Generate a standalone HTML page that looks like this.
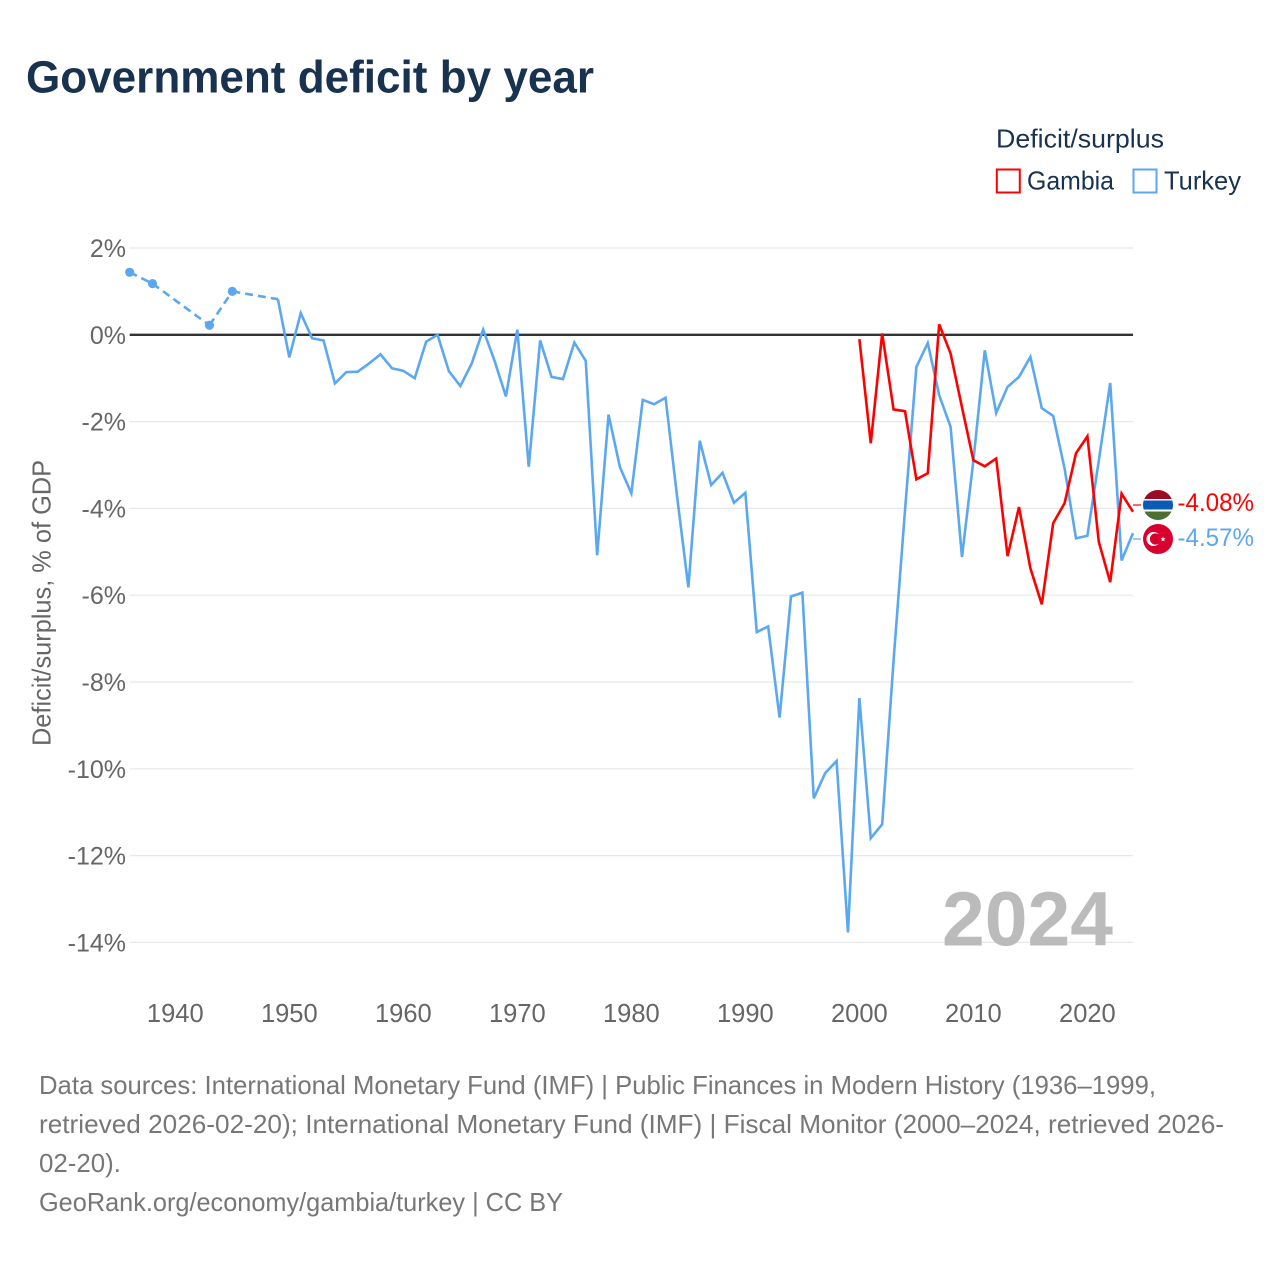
<!DOCTYPE html>
<html lang="en">
<head>
<meta charset="utf-8">
<title>Government deficit by year</title>
<style>
html,body{margin:0;padding:0;background:#fff;}
svg{display:block;font-family:"Liberation Sans",sans-serif;}
</style>
</head>
<body>
<svg id="chart" width="1280" height="1280" viewBox="0 0 1280 1280" xmlns="http://www.w3.org/2000/svg">
  <rect width="1280" height="1280" fill="#fff"/>
  <text x="26" y="92.5" font-size="45" font-weight="700" fill="#18324f" textLength="568" lengthAdjust="spacingAndGlyphs">Government deficit by year</text>

  <text x="996" y="147.5" font-size="26" fill="#18324f" textLength="168" lengthAdjust="spacingAndGlyphs">Deficit/surplus</text>
  <rect x="996.8" y="169.5" width="23" height="23" fill="#fff" stroke="#ff0000" stroke-width="2"/>
  <text x="1027" y="189.5" font-size="26" fill="#18324f" textLength="87" lengthAdjust="spacingAndGlyphs">Gambia</text>
  <rect x="1133.5" y="169.5" width="23" height="23" fill="#fff" stroke="#5ba8f0" stroke-width="2"/>
  <text x="1164" y="189.5" font-size="26" fill="#18324f" textLength="77" lengthAdjust="spacingAndGlyphs">Turkey</text>

  <g id="grid"></g>
  <g id="y-ticks"></g>
  <g id="x-ticks"></g>
  <text transform="translate(50.5,603) rotate(-90)" text-anchor="middle" font-size="26" fill="#666" textLength="286" lengthAdjust="spacingAndGlyphs">Deficit/surplus, % of GDP</text>

  <text x="942" y="945.5" font-size="77" font-weight="700" fill="#bbbbbb" textLength="171" lengthAdjust="spacingAndGlyphs">2024</text>

  <line id="zero-line" stroke="#333" stroke-width="2.4"/>
  <g id="series"></g>

  <defs>
    <clipPath id="clip-gm"><circle cx="1158" cy="505" r="15"/></clipPath>
  </defs>
  <line id="connector-gambia" stroke="#ff0000" stroke-width="1.2"/>
  <line id="connector-turkey" stroke="#5ba8f0" stroke-width="1.2"/>
  <g clip-path="url(#clip-gm)">
    <rect x="1143" y="490" width="30" height="10" fill="#9c0a24"/>
    <rect x="1143" y="499" width="30" height="2" fill="#fff"/>
    <rect x="1143" y="500.5" width="30" height="9" fill="#0b5ab4"/>
    <rect x="1143" y="509.5" width="30" height="2" fill="#fff"/>
    <rect x="1143" y="511.5" width="30" height="9.5" fill="#4c6f32"/>
  </g>
  <g>
    <circle cx="1158" cy="539" r="15" fill="#d8002e"/>
    <circle cx="1153.5" cy="539" r="7" fill="#fff"/>
    <circle cx="1155.5" cy="539" r="5.6" fill="#d8002e"/>
    <polygon points="1163,536.6 1163.7,538.4 1165.6,538.4 1164.1,539.6 1164.7,541.5 1163,540.4 1161.4,541.5 1162,539.6 1160.5,538.4 1162.3,538.4" fill="#fff"/>
  </g>
  <text id="value-gambia" x="1177.5" y="511" font-size="25" fill="#ff0000" textLength="76.5" lengthAdjust="spacingAndGlyphs"></text>
  <text id="value-turkey" x="1177.5" y="546" font-size="25" fill="#5ba8f0" textLength="76.5" lengthAdjust="spacingAndGlyphs"></text>

  <g font-size="26" fill="#777">
    <text x="39" y="1094" textLength="1117" lengthAdjust="spacingAndGlyphs">Data sources: International Monetary Fund (IMF) | Public Finances in Modern History (1936–1999,</text>
    <text x="39" y="1133" textLength="1185" lengthAdjust="spacingAndGlyphs">retrieved 2026-02-20); International Monetary Fund (IMF) | Fiscal Monitor (2000–2024, retrieved 2026-</text>
    <text x="39" y="1172" textLength="82" lengthAdjust="spacingAndGlyphs">02-20).</text>
    <text x="39" y="1211" textLength="524" lengthAdjust="spacingAndGlyphs">GeoRank.org/economy/gambia/turkey | CC BY</text>
  </g>
</svg>
<script>
const yTickValues = [2, 0, -2, -4, -6, -8, -10, -12, -14];
const xTickYears = [1940, 1950, 1960, 1970, 1980, 1990, 2000, 2010, 2020];

const turkeyYears = [1936, 1938, 1943, 1945, 1949, 1950, 1951, 1952, 1953, 1954, 1955, 1956, 1957, 1958, 1959, 1960, 1961, 1962, 1963, 1964, 1965, 1966, 1967, 1968, 1969, 1970, 1971, 1972, 1973, 1974, 1975, 1976, 1977, 1978, 1979, 1980, 1981, 1982, 1983, 1984, 1985, 1986, 1987, 1988, 1989, 1990, 1991, 1992, 1993, 1994, 1995, 1996, 1997, 1998, 1999, 2000, 2001, 2002, 2003, 2004, 2005, 2006, 2007, 2008, 2009, 2010, 2011, 2012, 2013, 2014, 2015, 2016, 2017, 2018, 2019, 2020, 2021, 2022, 2023, 2024];
const turkeyValues = [1.44, 1.18, 0.22, 1.0, 0.82, -0.52, 0.5, -0.08, -0.13, -1.12, -0.86, -0.85, -0.66, -0.45, -0.77, -0.83, -1.0, -0.16, 0, -0.84, -1.18, -0.66, 0.12, -0.6, -1.42, 0.12, -3.04, -0.13, -0.97, -1.02, -0.18, -0.6, -5.08, -1.84, -3.05, -3.65, -1.5, -1.6, -1.45, -3.7, -5.82, -2.44, -3.46, -3.18, -3.87, -3.64, -6.85, -6.72, -8.82, -6.03, -5.94, -10.68, -10.1, -9.82, -13.77, -8.37, -11.6, -11.28, -7.5, -4.05, -0.74, -0.19, -1.39, -2.12, -5.12, -2.9, -0.36, -1.8, -1.2, -0.97, -0.51, -1.69, -1.87, -3.08, -4.69, -4.63, -2.9, -1.11, -5.2, -4.57];

const gambiaYears = [2000, 2001, 2002, 2003, 2004, 2005, 2006, 2007, 2008, 2009, 2010, 2011, 2012, 2013, 2014, 2015, 2016, 2017, 2018, 2019, 2020, 2021, 2022, 2023, 2024];
const gambiaValues = [-0.1, -2.5, 0.03, -1.72, -1.76, -3.33, -3.19, 0.24, -0.43, -1.67, -2.89, -3.03, -2.85, -5.1, -3.97, -5.38, -6.21, -4.34, -3.88, -2.73, -2.34, -4.77, -5.7, -3.66, -4.08];

const SVG_NS = 'http://www.w3.org/2000/svg';
const X_MIN_YEAR = 1936, X_MAX_YEAR = 2024, X_LEFT = 129.7, X_RIGHT = 1133;
const Y_ZERO = 334.8, Y_PER_UNIT = 43.4;
const BLUE = '#5ba8f0', RED = '#ff0000';

function xScale(year) {
  return X_LEFT + (year - X_MIN_YEAR) * (X_RIGHT - X_LEFT) / (X_MAX_YEAR - X_MIN_YEAR);
}
function yScale(value) {
  return Y_ZERO - value * Y_PER_UNIT;
}
function make(tag, parent) {
  const el = document.createElementNS(SVG_NS, tag);
  parent.appendChild(el);
  return el;
}

const gridLayer = document.getElementById('grid');
const yTickLayer = document.getElementById('y-ticks');
const xTickLayer = document.getElementById('x-ticks');

yTickValues.forEach(function (v) {
  const line = make('line', gridLayer);
  
  
  line.setAttribute('x1', X_LEFT);
  line.setAttribute('x2', X_RIGHT);
  line.setAttribute('y1', yScale(v));
  line.setAttribute('y2', yScale(v));
  line.setAttribute('stroke', '#e8e8e8');
  line.setAttribute('stroke-width', '1.2');
  const label = make('text', yTickLayer);
  
  
  label.setAttribute('x', 126);
  label.setAttribute('y', yScale(v) + 9);
  label.setAttribute('text-anchor', 'end');
  label.setAttribute('font-size', '25');
  label.setAttribute('fill', '#666');
  label.textContent = v + '%';
});

xTickYears.forEach(function (yr) {
  const label = make('text', xTickLayer);
  
  
  label.setAttribute('x', xScale(yr));
  label.setAttribute('y', 1022);
  label.setAttribute('text-anchor', 'middle');
  label.setAttribute('font-size', '25.5');
  label.setAttribute('fill', '#666');
  label.textContent = yr;
});

function drawSeries(parent, years, values, color, name) {
  let solid = '';
  years.forEach(function (yr, i) {
    if (i === 0) return;
    const fromX = xScale(years[i - 1]).toFixed(2);
    const fromY = yScale(values[i - 1]).toFixed(2);
    const toX = xScale(yr).toFixed(2);
    const toY = yScale(values[i]).toFixed(2);
    if (yr - years[i - 1] === 1) {
      solid += (solid === '' ? 'M' + fromX + ' ' + fromY : '') + 'L' + toX + ' ' + toY;
    } else {
      const gap = make('path', parent);
      
      
      gap.setAttribute('d', 'M' + fromX + ' ' + fromY + 'L' + toX + ' ' + toY);
      gap.setAttribute('fill', 'none');
      gap.setAttribute('stroke', color);
      gap.setAttribute('stroke-width', '2.6');
      gap.setAttribute('stroke-dasharray', '8 5');
    }
  });
  const line = make('path', parent);
  
  
  line.setAttribute('d', solid);
  line.setAttribute('fill', 'none');
  line.setAttribute('stroke', color);
  line.setAttribute('stroke-width', '2.6');
  line.setAttribute('stroke-linejoin', 'miter');
  years.forEach(function (yr, i) {
    const hasPrev = i > 0 && yr - years[i - 1] === 1;
    const hasNext = i < years.length - 1 && years[i + 1] - yr === 1;
    if (hasPrev || hasNext) return;
    const dot = make('circle', parent);
    
    
    dot.setAttribute('cx', xScale(yr));
    dot.setAttribute('cy', yScale(values[i]));
    dot.setAttribute('r', '4.6');
    dot.setAttribute('fill', color);
  });
}

const zero = document.getElementById('zero-line');
zero.setAttribute('x1', X_LEFT);
zero.setAttribute('x2', X_RIGHT);
zero.setAttribute('y1', yScale(0));
zero.setAttribute('y2', yScale(0));

const seriesLayer = document.getElementById('series');
drawSeries(seriesLayer, turkeyYears, turkeyValues, BLUE, 'turkey');
drawSeries(seriesLayer, gambiaYears, gambiaValues, RED, 'gambia');

const connG = document.getElementById('connector-gambia');
connG.setAttribute('x1', X_RIGHT);
connG.setAttribute('x2', 1141);
connG.setAttribute('y1', 505);
connG.setAttribute('y2', 505);
const connT = document.getElementById('connector-turkey');
connT.setAttribute('x1', X_RIGHT);
connT.setAttribute('x2', 1141);
connT.setAttribute('y1', 539);
connT.setAttribute('y2', 539);

document.getElementById('value-gambia').textContent = gambiaValues[gambiaValues.length - 1].toFixed(2) + '%';
document.getElementById('value-turkey').textContent = turkeyValues[turkeyValues.length - 1].toFixed(2) + '%';
</script>
</body>
</html>
